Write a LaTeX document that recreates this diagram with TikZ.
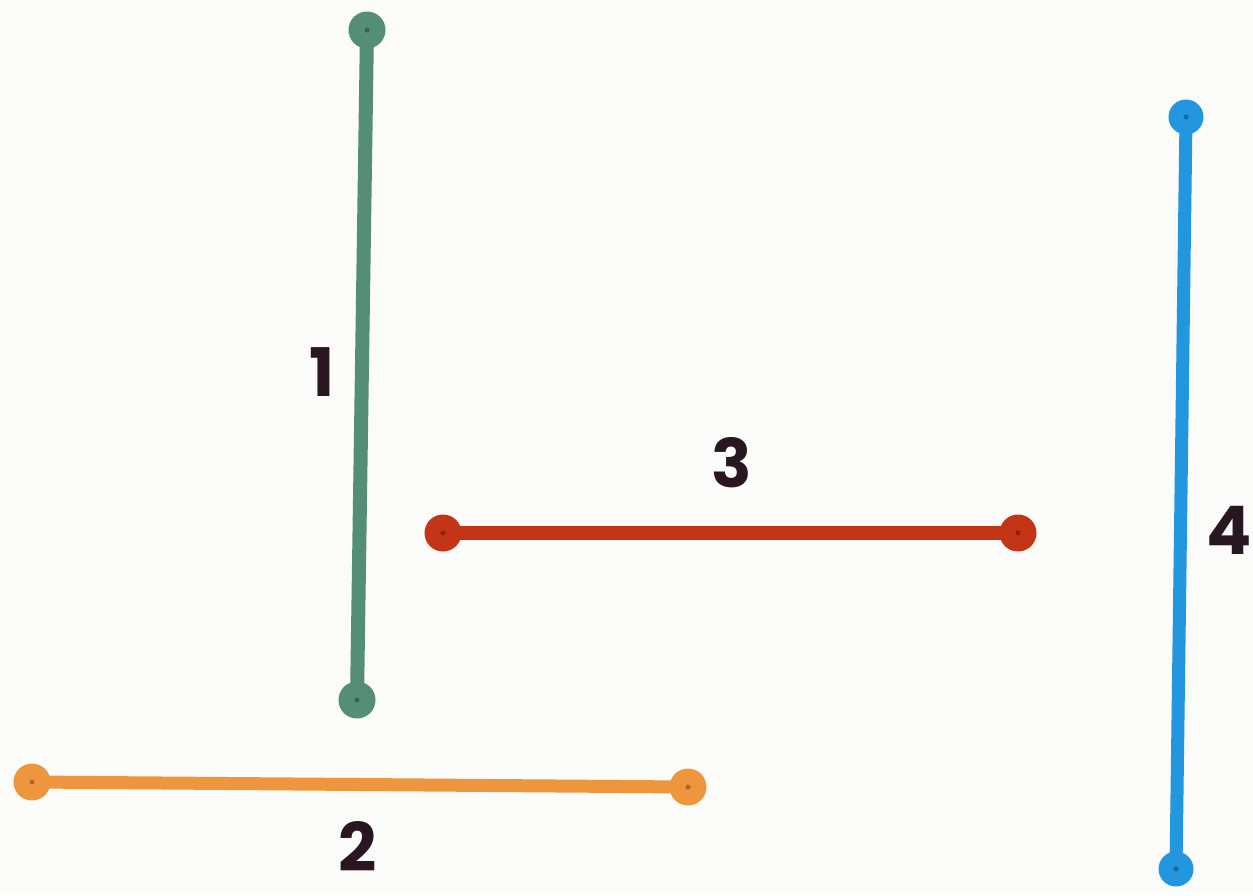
\documentclass[tikz,border=0pt]{standalone}
\usepackage{fontspec}
\setmainfont{Poppins}[UprightFont=* Bold]
\definecolor{gline}{RGB}{84,142,118}
\definecolor{oline}{RGB}{238,150,62}
\definecolor{rline}{RGB}{196,52,22}
\definecolor{bline}{RGB}{34,150,222}
\definecolor{ink}{RGB}{40,22,32}
\definecolor{paper}{RGB}{251,251,249}
\begin{document}
\begin{tikzpicture}[x=1pt,y=-1pt,
  dot/.style={circle,fill=#1,inner sep=0pt,minimum size=37pt},
  bar/.style={line width=14pt,draw=#1},
  num/.style={text=ink,font=\fontsize{67}{67}\selectfont,inner sep=0pt}]
\fill[paper] (0,0) rectangle (1253,895);
\useasboundingbox (0,0) rectangle (1253,895);
% endpoints
\node[dot=gline] (g1) at (367,30) {};
\node[dot=gline] (g2) at (357,700) {};
\node[dot=oline] (o1) at (32,782) {};
\node[dot=oline] (o2) at (688,787) {};
\node[dot=rline] (r1) at (443,533) {};
\node[dot=rline] (r2) at (1018,533) {};
\node[dot=bline,minimum size=35pt] (b1) at (1186,117) {};
\node[dot=bline,minimum size=35pt] (b2) at (1176,869) {};
% bars
\draw[bar=gline] (g1.center) -- (g2.center);
\draw[bar=oline,line width=13pt] (o1.center) -- (o2.center);
\draw[bar=rline] (r1.center) -- (r2.center);
\draw[bar=bline,line width=13pt] (b1.center) -- (b2.center);
% hinge centres
\foreach \p/\c in {g1/gline,g2/gline,o1/oline,o2/oline,r1/rline,r2/rline,b1/bline,b2/bline}
  \fill[\c!70!black] (\p.center) circle (2.5);
% labels
\node[num] (l1) at (322,372) {1};
\node[num] (l2) at (358,846) {2};
\node[num] (l3) at (732,463) {3};
\node[num] (l4) at (1229,530) {4};
\end{tikzpicture}
\end{document}
